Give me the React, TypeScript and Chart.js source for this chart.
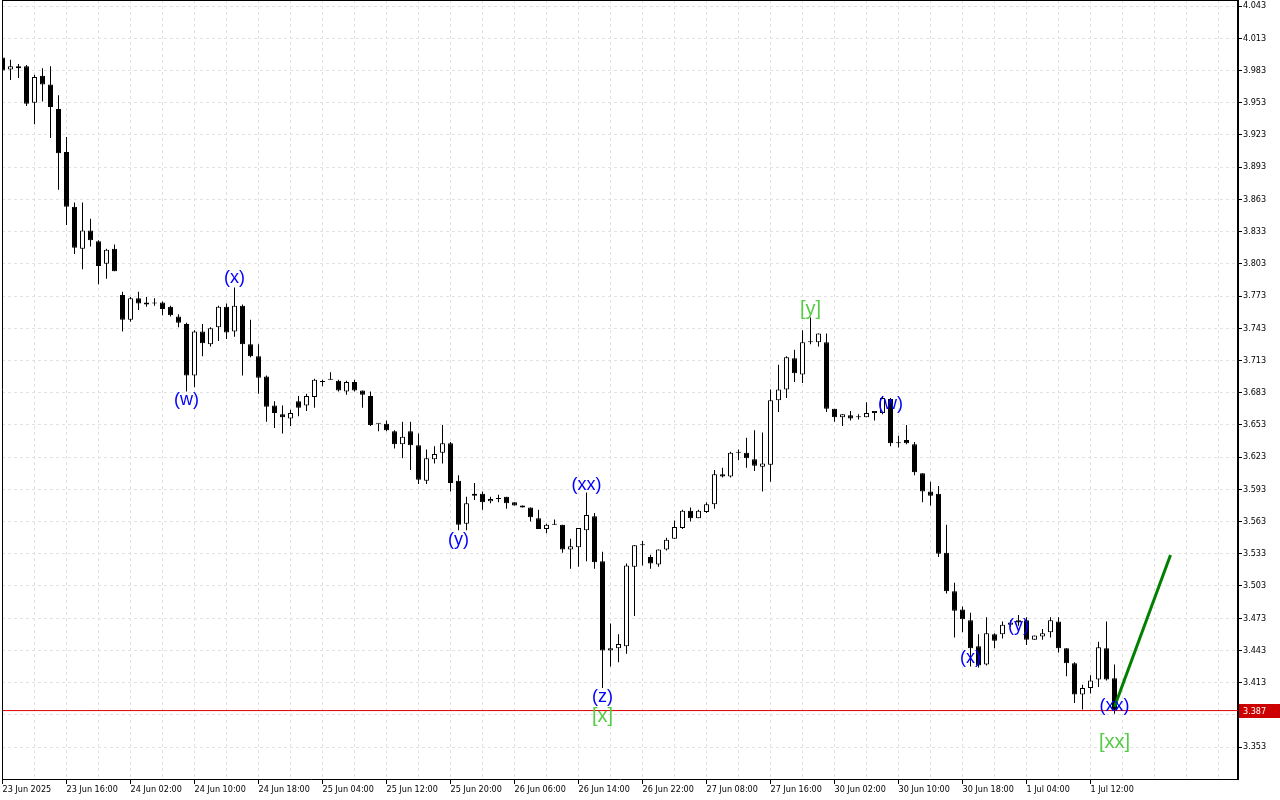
import React, { useEffect, useRef } from "react";
import { Chart, registerables } from "chart.js";

Chart.register(...registerables);

// ---- Data (H1 candles, 23 Jun 2025 .. 1 Jul 2025) ----
const opens = [
  3.995, 3.984, 3.987, 3.987, 3.953, 3.978, 3.970, 3.947, 3.907, 3.856,
  3.817, 3.834, 3.824, 3.803, 3.817, 3.774, 3.751, 3.771, 3.767, 3.766,
  3.767, 3.763, 3.754, 3.747, 3.699, 3.740, 3.728, 3.744, 3.763, 3.740,
  3.764, 3.728, 3.717, 3.698, 3.671, 3.663, 3.659, 3.675, 3.671, 3.679,
  3.693, 3.695, 3.694, 3.684, 3.693, 3.685, 3.680, 3.654, 3.654, 3.647,
  3.635, 3.647, 3.634, 3.601, 3.621, 3.627, 3.636, 3.601, 3.561, 3.587,
  3.589, 3.582, 3.584, 3.586, 3.581, 3.578, 3.576, 3.566, 3.556, 3.560,
  3.560, 3.537, 3.539, 3.555, 3.568, 3.526, 3.443, 3.445, 3.447, 3.521,
  3.541, 3.530, 3.523, 3.537, 3.547, 3.557, 3.573, 3.566, 3.572, 3.579,
  3.607, 3.605, 3.627, 3.627, 3.621, 3.614, 3.616, 3.676, 3.686, 3.715,
  3.700, 3.730, 3.730, 3.730, 3.668, 3.660, 3.662, 3.660, 3.660, 3.664,
  3.664, 3.677, 3.636, 3.639, 3.635, 3.608, 3.591, 3.589, 3.534, 3.498,
  3.481, 3.471, 3.447, 3.430, 3.458, 3.458, 3.467, 3.471, 3.471, 3.453,
  3.456, 3.460, 3.470, 3.445, 3.431, 3.402, 3.408, 3.416, 3.445, 3.417,
];
const highs = [
  3.997, 3.993, 3.989, 3.988, 3.979, 3.985, 3.987, 3.960, 3.921, 3.860,
  3.860, 3.845, 3.825, 3.817, 3.821, 3.777, 3.772, 3.777, 3.772, 3.771,
  3.768, 3.764, 3.756, 3.748, 3.741, 3.747, 3.744, 3.764, 3.766, 3.781,
  3.765, 3.751, 3.728, 3.699, 3.675, 3.671, 3.667, 3.680, 3.682, 3.696,
  3.695, 3.702, 3.695, 3.694, 3.695, 3.685, 3.684, 3.654, 3.657, 3.648,
  3.656, 3.656, 3.645, 3.630, 3.633, 3.653, 3.637, 3.606, 3.586, 3.599,
  3.591, 3.586, 3.588, 3.586, 3.581, 3.578, 3.576, 3.574, 3.561, 3.565,
  3.560, 3.547, 3.557, 3.590, 3.571, 3.535, 3.468, 3.458, 3.524, 3.541,
  3.545, 3.532, 3.537, 3.548, 3.564, 3.574, 3.576, 3.574, 3.581, 3.611,
  3.613, 3.628, 3.630, 3.641, 3.648, 3.646, 3.686, 3.709, 3.717, 3.723,
  3.741, 3.753, 3.738, 3.738, 3.668, 3.663, 3.666, 3.663, 3.674, 3.666,
  3.680, 3.678, 3.643, 3.653, 3.637, 3.608, 3.600, 3.596, 3.560, 3.506,
  3.484, 3.478, 3.458, 3.474, 3.459, 3.470, 3.471, 3.476, 3.474, 3.457,
  3.463, 3.474, 3.474, 3.445, 3.432, 3.411, 3.420, 3.451, 3.470, 3.430,
];
const lows = [
  3.981, 3.974, 3.976, 3.950, 3.933, 3.954, 3.920, 3.872, 3.839, 3.812,
  3.798, 3.819, 3.784, 3.789, 3.796, 3.740, 3.749, 3.760, 3.763, 3.764,
  3.755, 3.754, 3.744, 3.684, 3.688, 3.717, 3.726, 3.731, 3.733, 3.735,
  3.699, 3.716, 3.682, 3.656, 3.650, 3.645, 3.652, 3.661, 3.666, 3.669,
  3.689, 3.695, 3.684, 3.681, 3.684, 3.669, 3.652, 3.647, 3.647, 3.631,
  3.622, 3.611, 3.598, 3.598, 3.617, 3.617, 3.591, 3.555, 3.555, 3.583,
  3.574, 3.580, 3.581, 3.575, 3.578, 3.576, 3.563, 3.556, 3.552, 3.560,
  3.534, 3.519, 3.521, 3.526, 3.519, 3.408, 3.428, 3.432, 3.440, 3.475,
  3.522, 3.519, 3.521, 3.536, 3.547, 3.556, 3.563, 3.566, 3.571, 3.575,
  3.604, 3.604, 3.620, 3.613, 3.610, 3.591, 3.600, 3.665, 3.678, 3.693,
  3.692, 3.728, 3.726, 3.665, 3.656, 3.652, 3.657, 3.658, 3.660, 3.657,
  3.663, 3.633, 3.632, 3.635, 3.606, 3.581, 3.578, 3.530, 3.496, 3.455,
  3.460, 3.428, 3.427, 3.429, 3.445, 3.454, 3.465, 3.466, 3.448, 3.453,
  3.453, 3.455, 3.441, 3.419, 3.394, 3.388, 3.403, 3.409, 3.415, 3.384,
];
const closes = [
  3.983, 3.987, 3.985, 3.952, 3.977, 3.970, 3.949, 3.906, 3.856, 3.818,
  3.834, 3.825, 3.801, 3.816, 3.796, 3.751, 3.771, 3.766, 3.765, 3.766,
  3.761, 3.755, 3.748, 3.699, 3.740, 3.729, 3.743, 3.763, 3.739, 3.764,
  3.728, 3.717, 3.697, 3.670, 3.664, 3.660, 3.664, 3.669, 3.680, 3.695,
  3.693, 3.695, 3.685, 3.693, 3.685, 3.681, 3.653, 3.654, 3.648, 3.635,
  3.642, 3.634, 3.602, 3.622, 3.626, 3.636, 3.599, 3.560, 3.580, 3.589,
  3.581, 3.584, 3.584, 3.580, 3.578, 3.576, 3.567, 3.556, 3.560, 3.560,
  3.537, 3.540, 3.557, 3.569, 3.525, 3.443, 3.445, 3.449, 3.522, 3.541,
  3.541, 3.524, 3.537, 3.546, 3.558, 3.573, 3.566, 3.573, 3.579, 3.607,
  3.605, 3.627, 3.627, 3.622, 3.615, 3.617, 3.676, 3.686, 3.716, 3.701,
  3.730, 3.730, 3.738, 3.668, 3.660, 3.663, 3.659, 3.660, 3.664, 3.666,
  3.678, 3.636, 3.636, 3.636, 3.609, 3.591, 3.587, 3.533, 3.498, 3.480,
  3.472, 3.445, 3.429, 3.459, 3.452, 3.467, 3.469, 3.469, 3.453, 3.457,
  3.459, 3.471, 3.445, 3.431, 3.402, 3.408, 3.415, 3.446, 3.416, 3.387,
];

const xTickLabels = [
  "23 Jun 2025", "23 Jun 16:00", "24 Jun 02:00", "24 Jun 10:00", "24 Jun 18:00",
  "25 Jun 04:00", "25 Jun 12:00", "25 Jun 20:00", "26 Jun 06:00", "26 Jun 14:00",
  "26 Jun 22:00", "27 Jun 08:00", "27 Jun 16:00", "30 Jun 02:00", "30 Jun 10:00",
  "30 Jun 18:00", "1 Jul 04:00", "1 Jul 12:00",
];
const yTickLabels = [
  "4.043", "4.013", "3.983", "3.953", "3.923", "3.893", "3.863", "3.833",
  "3.803", "3.773", "3.743", "3.713", "3.683", "3.653", "3.623", "3.593",
  "3.563", "3.533", "3.503", "3.473", "3.443", "3.413", "3.383", "3.353",
];

const currentPrice = 3.387;

// projection arrow (bar index, price)
const arrowBars = [139, 146];
const arrowPrices = [3.3906, 3.5318];

// wave labels
const waveTexts = ["(w)", "(x)", "(y)", "(xx)", "(z)", "[x]", "[y]", "(w)", "(x)", "(y)", "(xx)", "[xx]"];
const waveBars = [23, 29, 57, 73, 75, 75, 101, 111, 121, 127, 139, 139];
const wavePrices = [3.6762, 3.7898, 3.5458, 3.5970, 3.3996, 3.3819, 3.7600, 3.6724, 3.4359, 3.4657, 3.3913, 3.3577];

const X_MIN = -0.0625;
const X_MAX = 154.4375;
const Y_MIN = 3.3233;
const Y_MAX = 4.0486;
const TICK_FONT = { family: "'DejaVu Sans Condensed', 'DejaVu Sans', sans-serif", size: 9 };

export default function App() {
  const ref = useRef<HTMLCanvasElement | null>(null);

  useEffect(() => {
    const canvas = ref.current;
    if (!canvas) return;

    const wickData = highs.map((h, i) => ({ x: i, y: [lows[i], h] }));
    const bodyData = opens.map((o, i) => ({ x: i, y: [o, closes[i]] }));
    const bodyColors = opens.map((o, i) => (closes[i] >= o ? "#ffffff" : "#000000"));
    const lastLabelled = (xTickLabels.length - 1) * 8;

    const overlay = {
      id: "overlay",
      afterDatasetsDraw(chart: any) {
        const { ctx, scales } = chart;
        const xs = scales.x;
        const ys = scales.y;
        ctx.save();
        ctx.textAlign = "center";
        ctx.textBaseline = "middle";
        waveTexts.forEach((t, i) => {
          const green = t.startsWith("[");
          ctx.font = green ? "20px 'Liberation Sans', Arial, sans-serif" : "18px 'Liberation Sans', Arial, sans-serif";
          ctx.fillStyle = green ? "#55cc44" : "#0000ff";
          ctx.fillText(t, xs.getPixelForValue(waveBars[i]), ys.getPixelForValue(wavePrices[i]));
        });
        ctx.restore();
      },
      afterDraw(chart: any) {
        const { ctx, chartArea, scales } = chart;
        const ys = scales.y;
        ctx.save();
        // frame: left + top
        ctx.strokeStyle = "#000";
        ctx.lineWidth = 1;
        ctx.beginPath();
        ctx.moveTo(chartArea.left + 0.5, 0);
        ctx.lineTo(chartArea.left + 0.5, chartArea.bottom);
        ctx.moveTo(chartArea.left, 0.5);
        ctx.lineTo(chartArea.right, 0.5);
        ctx.stroke();
        // current price tag
        const py = Math.round(ys.getPixelForValue(currentPrice));
        ctx.fillStyle = "#cc0000";
        ctx.fillRect(chartArea.right + 1, py - 7, 1280 - chartArea.right - 1, 14);
        ctx.fillStyle = "#ffffff";
        ctx.font = `${TICK_FONT.size}px ${TICK_FONT.family}`;
        ctx.textAlign = "left";
        ctx.textBaseline = "middle";
        ctx.fillText(currentPrice.toFixed(3), chartArea.right + 5, py + 0.5);
        ctx.restore();
      },
    };

    const chart = new Chart(canvas, {
      type: "bar",
      data: {
        datasets: [
          {
            type: "bar",
            data: wickData as any,
            backgroundColor: "#000000",
            borderWidth: 0,
            barThickness: 1,
            grouped: false,
            inflateAmount: 0,
            order: 5,
          } as any,
          {
            type: "bar",
            data: bodyData as any,
            backgroundColor: bodyColors,
            borderColor: "#000000",
            borderWidth: 1,
            borderSkipped: false,
            barThickness: 5,
            minBarLength: 1,
            grouped: false,
            inflateAmount: 0,
            order: 4,
          } as any,
          {
            type: "line",
            data: [
              { x: X_MIN, y: currentPrice },
              { x: X_MAX, y: currentPrice },
            ],
            borderColor: "#dd0000",
            borderWidth: 1,
            pointRadius: 0,
            order: 2,
          } as any,
          {
            type: "line",
            data: arrowBars.map((b, i) => ({ x: b, y: arrowPrices[i] })),
            borderColor: "#008000",
            borderWidth: 3,
            pointRadius: 0,
            order: 1,
          } as any,
        ],
      },
      options: {
        animation: false,
        responsive: false,
        devicePixelRatio: 1,
        events: [],
        layout: { padding: { left: 2, right: 0, top: 0, bottom: 0 } },
        plugins: { legend: { display: false }, tooltip: { enabled: false } },
        scales: {
          x: {
            type: "linear",
            position: "bottom",
            min: X_MIN,
            max: X_MAX,
            offset: false,
            afterBuildTicks: (s: any) => {
              const t = [];
              for (let v = 0; v <= 152; v += 4) t.push({ value: v });
              s.ticks = t;
            },
            afterFit: (s: any) => {
              s.height = 21;
              s.paddingLeft = 0;
              s.paddingRight = 0;
            },
            grid: {
              offset: false,
              color: "#e2e2e2",
              lineWidth: 1,
              drawTicks: true,
              tickLength: 5,
              tickWidth: 1,
              tickColor: (c: any) =>
                c.tick && c.tick.value % 8 === 0 && c.tick.value <= lastLabelled ? "#000000" : "rgba(0,0,0,0)",
            },
            border: { display: true, color: "#000000", width: 1, dash: [3, 3] },
            ticks: {
              autoSkip: false,
              maxRotation: 0,
              minRotation: 0,
              align: "start",
              padding: 0,
              color: "#000000",
              font: TICK_FONT,
              callback: (v: any) => (Number(v) % 8 === 0 ? xTickLabels[Number(v) / 8] ?? "" : ""),
            },
          },
          y: {
            type: "linear",
            position: "right",
            min: Y_MIN,
            max: Y_MAX,
            afterBuildTicks: (s: any) => {
              s.ticks = yTickLabels.map((l) => ({ value: parseFloat(l) }));
            },
            afterFit: (s: any) => {
              s.width = 42;
              s.paddingTop = 0;
              s.paddingBottom = 0;
            },
            grid: {
              color: "#e2e2e2",
              lineWidth: 1,
              drawTicks: true,
              tickLength: 4,
              tickColor: "#000000",
            },
            border: { display: true, color: "#000000", width: 2, dash: [3, 3] },
            ticks: {
              padding: 1,
              color: "#000000",
              font: TICK_FONT,
              callback: (v: any) => Number(v).toFixed(3),
            },
          },
        },
      } as any,
      plugins: [overlay],
    });

    return () => chart.destroy();
  }, []);

  return (
    <div style={{ position: "absolute", left: 0, top: 0, width: 1280, height: 800, background: "#ffffff" }}>
      <canvas ref={ref} width={1280} height={800} style={{ display: "block", width: 1280, height: 800 }} />
    </div>
  );
}
